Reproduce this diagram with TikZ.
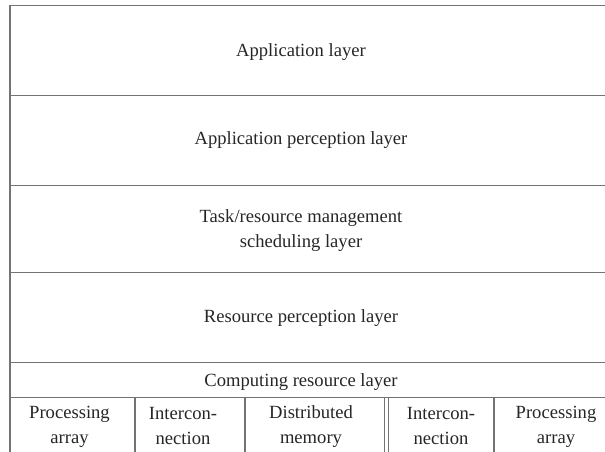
\documentclass[tikz,border=0pt]{standalone}
\usepackage{fontspec}
\setmainfont{Liberation Serif}
\begin{document}
\begin{tikzpicture}[x=1pt,y=-1pt,
  rule/.style={draw=black!55,line width=1.3pt},
  thinrule/.style={draw=black!55,line width=0.9pt},
  label/.style={font=\fontsize{18.6}{25}\selectfont,align=center,text=black!85,inner sep=0pt}]
\useasboundingbox (0,0) rectangle (605,452);

% horizontal rules of the layer stack
\foreach \yy in {5.5,95.5,185.5,272.5,362.5,397.5}
  \draw[rule] (10,\yy) -- (605,\yy);
% left border
\draw[rule] (10,5) -- (10,452);
% dividers of the bottom row
\draw[rule] (135,397.5) -- (135,452);
\draw[rule] (245,397.5) -- (245,452);
\draw[thinrule] (384.8,397.5) -- (384.8,452);
\draw[thinrule] (388.2,397.5) -- (388.2,452);
\draw[rule] (494,397.5) -- (494,452);

% layer labels
\node[label] (app)   at (301,52.5)  {Application layer};
\node[label] (aper)  at (301,140)   {Application perception layer};
\node[label] (task)  at (301,230.5) {Task/resource management\\scheduling layer};
\node[label] (rper)  at (301,318)   {Resource perception layer};
\node[label] (comp)  at (301,382)   {Computing resource layer};

% components of the computing resource layer
\node[label] (pa1) at (69.5,427) {Processing\\array};
\node[label] (ic1) at (183,425.5)  {Intercon-\\nection};
\node[label] (dm)  at (311,427)  {Distributed\\memory};
\node[label] (ic2) at (441,425.5)  {Intercon-\\nection};
\node[label] (pa2) at (556,427)  {Processing\\array};
\end{tikzpicture}
\end{document}
